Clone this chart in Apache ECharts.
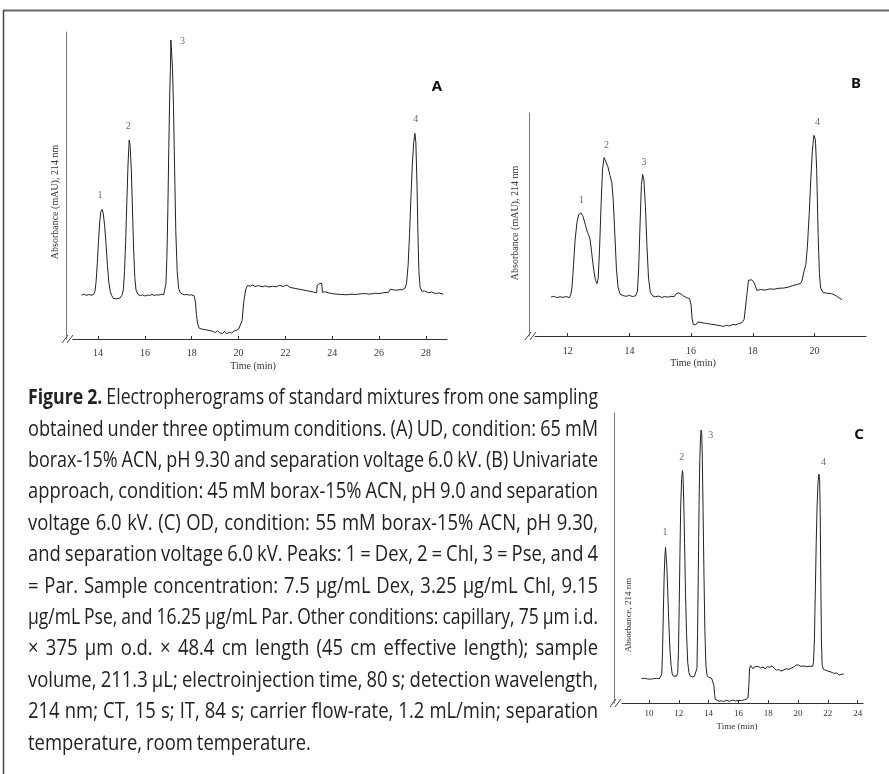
<!DOCTYPE html>
<html lang="en">
<head>
<meta charset="UTF-8">
<title>Figure 2 - Electropherograms</title>
<script src="https://cdn.jsdelivr.net/npm/echarts@6.0.0/dist/echarts.min.js"></script>
<style>
  html, body { margin: 0; padding: 0; background: #fff; }
  #main { width: 889px; height: 774px; }
</style>
</head>
<body>
<div id="main"></div>
<script>
// ---- data (time in min, absorbance in arbitrary units 0-100) ----
var ticksA = [14, 16, 18, 20, 22, 24, 26, 28];
var ticksB = [12, 14, 16, 18, 20];
var ticksC = [10, 12, 14, 16, 18, 20, 22, 24];

var traceA = [
  [13.30,14.3],[13.40,14.6],[13.50,14.2],[13.60,14.5],[13.70,14.3],[13.80,14.4],[13.87,15.5],[13.92,19],[13.97,25],[14.02,32],
  [14.07,38],[14.12,41.5],[14.17,42.2],[14.22,41],[14.28,37],[14.34,31],[14.40,24],[14.46,18.5],[14.52,15.5],[14.58,14.2],
  [14.65,13.2],[14.72,13.5],[14.80,13.1],[14.88,13.6],[14.95,13.4],[15.02,14.2],[15.08,16],[15.13,22],[15.18,32],[15.23,45],
  [15.28,57],[15.33,64.8],[15.37,63],[15.42,55],[15.47,42],[15.52,29],[15.57,20],[15.62,16],[15.70,14.6],[15.80,14.1],
  [15.90,14.4],[16.00,14.0],[16.10,14.3],[16.20,14.2],[16.30,14.5],[16.40,14.2],[16.50,14.4],[16.60,14.3],[16.70,14.6],[16.80,14.4],
  [16.86,15],[16.90,18],[16.94,27],[16.98,42],[17.02,62],[17.06,80],[17.09,88],[17.11,97.4],[17.16,97.4],[17.18,88],
  [17.22,76],[17.27,55],[17.32,35],[17.38,22],[17.44,16.5],[17.50,15.2],[17.60,14.6],[17.70,14.4],[17.80,14.5],[17.90,14.3],
  [18.00,14.4],[18.10,14.1],[18.16,12],[18.20,8],[18.25,5],[18.32,3.5],[18.45,3.2],[18.60,3.0],[18.75,2.8],[18.90,2.5],
  [19.00,2.1],[19.10,2.7],[19.20,2.0],[19.30,1.8],[19.40,2.4],[19.50,1.7],[19.60,2.2],[19.70,1.9],[19.80,2.6],[19.90,2.8],
  [20.00,3.2],[20.08,3.5],[20.15,6],[20.22,12],[20.30,16],[20.38,17.4],[20.50,17.2],[20.60,17.6],[20.70,17.1],[20.85,17.4],
  [21.00,17.0],[21.15,17.3],[21.30,16.9],[21.45,17.2],[21.60,17.0],[21.75,17.5],[21.90,17.1],[22.05,17.6],[22.20,16.8],[22.40,16.5],
  [22.60,16.2],[22.80,15.9],[23.00,15.6],[23.20,15.3],[23.33,15.0],[23.36,17.5],[23.45,18],[23.55,18.2],[23.58,15.2],[23.70,15.4],
  [23.85,15.0],[24.00,14.8],[24.20,14.6],[24.40,14.5],[24.60,14.4],[24.80,14.6],[25.00,14.5],[25.20,14.7],[25.40,14.8],[25.60,14.6],
  [25.80,14.9],[26.00,14.8],[26.20,15.1],[26.40,15.2],[26.48,16.2],[26.55,15.6],[26.70,15.9],[26.85,16.0],[27.00,16.1],[27.10,16.5],
  [27.17,18],[27.24,24],[27.30,34],[27.36,46],[27.42,57],[27.48,64],[27.53,67],[27.57,64],[27.62,50],[27.66,34],
  [27.70,22],[27.75,17],[27.82,15.6],[27.95,15.6],[28.10,15.1],[28.25,15.3],[28.40,14.8],[28.55,15.0],[28.74,14.6]
];

var traceB = [
  [11.46,17.5],[11.55,17.8],[11.65,17.2],[11.75,17.6],[11.85,17.3],[11.95,17.7],[12.05,17.2],[12.10,18.5],[12.14,22],[12.19,32],
  [12.24,43],[12.30,51],[12.36,54.5],[12.43,55.2],[12.50,53.5],[12.57,50],[12.64,46.5],[12.70,44.5],[12.73,43],[12.78,37],
  [12.84,30],[12.90,25],[12.95,23.5],[12.99,26],[13.03,38],[13.08,58],[13.13,75],[13.18,80],[13.24,79.5],[13.30,76],
  [13.37,72],[13.43,69],[13.48,60],[13.53,45],[13.58,30],[13.63,22],[13.70,18.7],[13.80,18.1],[13.90,17.8],[14.00,18.2],
  [14.10,17.7],[14.20,18.0],[14.26,20],[14.30,30],[14.35,52],[14.39,68],[14.43,72.4],[14.47,70],[14.52,58],[14.57,40],
  [14.62,26],[14.68,19.5],[14.75,18],[14.85,17.6],[14.95,17.9],[15.05,17.3],[15.15,17.7],[15.25,17.4],[15.35,17.8],[15.45,17.6],
  [15.52,19],[15.60,19.3],[15.68,18.8],[15.76,17.9],[15.85,17.2],[15.95,16.8],[16.00,14],[16.03,8],[16.07,5.2],[16.15,5],
  [16.22,6.3],[16.35,6.0],[16.50,5.6],[16.65,5.3],[16.80,5.0],[16.95,4.6],[17.05,4.3],[17.15,4.8],[17.25,4.5],[17.35,5.2],
  [17.45,5.0],[17.55,5.6],[17.65,6.0],[17.72,7.5],[17.78,8],[17.82,20],[17.86,25],[17.95,25.2],[18.02,24.5],[18.08,22.5],
  [18.13,20.5],[18.25,20.8],[18.40,20.6],[18.55,21.1],[18.70,21.0],[18.85,21.4],[19.00,21.5],[19.15,21.9],[19.30,22.6],[19.45,23.2],
  [19.55,23.5],[19.60,25],[19.66,29],[19.72,32],[19.77,40],[19.83,55],[19.88,70],[19.93,83],[19.98,90],[20.03,88],
  [20.07,75],[20.12,45],[20.16,28],[20.20,21.5],[20.28,19.5],[20.40,19.2],[20.55,19.0],[20.65,18.4],[20.75,17.6],[20.89,16.3]
];

var traceC = [
  [9.50,8.4],[9.60,8.9],[9.70,8.5],[9.80,8.8],[9.90,8.3],[10.00,8.7],[10.10,8.2],[10.20,8.6],[10.30,8.4],[10.40,8.8],
  [10.50,8.5],[10.60,8.6],[10.70,8.4],[10.80,8.7],[10.86,10],[10.91,18],[10.96,30],[11.01,42],[11.06,50],[11.11,53.6],
  [11.15,53],[11.20,47],[11.26,38],[11.33,28],[11.40,19],[11.48,13],[11.56,10],[11.65,9.2],[11.75,9.0],[11.85,9.3],
  [11.93,10.5],[11.98,18],[12.03,34],[12.08,52],[12.13,68],[12.19,77],[12.24,80.1],[12.28,79],[12.33,70],[12.39,55],
  [12.45,38],[12.52,24],[12.60,14],[12.68,10.5],[12.76,9.3],[12.90,9.0],[13.05,9.2],[13.17,9.6],[13.22,12],[13.26,24],
  [13.31,45],[13.36,68],[13.41,84],[13.46,92],[13.50,94.1],[13.54,93],[13.58,84],[13.63,66],[13.69,44],[13.75,25],
  [13.82,13],[13.90,9.5],[14.00,8.8],[14.10,8.4],[14.20,8.6],[14.30,8.3],[14.36,6],[14.40,3],[14.45,1.3],[14.55,0.9],
  [14.70,0.6],[14.85,0.8],[15.00,0.5],[15.20,0.9],[15.40,0.6],[15.60,1.0],[15.80,0.7],[16.00,0.9],[16.20,0.8],[16.40,1.1],
  [16.55,1.3],[16.65,2],[16.70,6],[16.75,12],[16.82,12.9],[16.90,13.0],[16.98,11.8],[17.08,12.5],[17.20,11.9],[17.35,12.6],
  [17.50,12.0],[17.65,12.4],[17.80,11.8],[17.95,12.6],[18.10,12.3],[18.25,12.8],[18.40,12.0],[18.55,11.3],[18.70,11.6],[18.85,11.0],
  [19.00,11.3],[19.20,11.8],[19.40,11.6],[19.60,12.2],[19.75,12.5],[19.90,13.2],[20.05,13.0],[20.20,12.6],[20.40,12.8],[20.60,12.5],
  [20.80,12.7],[20.98,12.6],[21.04,14],[21.10,22],[21.16,38],[21.22,55],[21.28,68],[21.34,76],[21.40,78.9],[21.45,77],
  [21.49,65],[21.53,42],[21.57,22],[21.62,13],[21.70,11.6],[21.85,11.3],[22.00,11.0],[22.15,10.8],[22.30,10.5],[22.45,10.2],
  [22.60,10.4],[22.75,9.6],[22.90,9.9],[23.06,10.0]
];

// peak number labels: [time, absorbance, text]
var peakLabelsA = [[14.08, 46.9, '1'], [15.29, 69.4, '2'], [17.61, 96.8, '3'], [27.57, 71.6, '4']];
var peakLabelsB = [[12.45, 60.9, '1'], [13.26, 85.5, '2'], [14.47, 78.0, '3'], [20.10, 95.7, '4']];
var peakLabelsC = [[11.08, 58.7, '1'], [12.20, 84.6, '2'], [14.15, 92.2, '3'], [21.71, 83.0, '4']];

var yTitleAB = 'Absorbance (mAU), 214 nm';
var yTitleC = 'Absorbance, 214 nm';
var xTitle = 'Time (min)';

var captionLines = [
  'Figure 2. Electropherograms of standard mixtures from one sampling',
  'obtained under three optimum conditions. (A) UD, condition: 65 mM',
  'borax-15% ACN, pH 9.30 and separation voltage 6.0 kV. (B) Univariate',
  'approach, condition: 45 mM borax-15% ACN, pH 9.0 and separation',
  'voltage 6.0 kV. (C) OD, condition: 55 mM borax-15% ACN, pH 9.30,',
  'and separation voltage 6.0 kV. Peaks: 1 = Dex, 2 = Chl, 3 = Pse,  and 4',
  '= Par. Sample concentration: 7.5 \u00b5g/mL Dex, 3.25 \u00b5g/mL Chl, 9.15',
  '\u00b5g/mL Pse, and 16.25 \u00b5g/mL Par. Other conditions: capillary, 75 \u00b5m i.d.',
  '\u00d7 375 \u00b5m o.d. \u00d7 48.4 cm length (45 cm effective length); sample',
  'volume, 211.3 \u00b5L; electroinjection time, 80 s; detection wavelength,',
  '214 nm; CT, 15 s; IT, 84 s; carrier flow-rate, 1.2 mL/min; separation',
  'temperature, room temperature.'
];

// ---- layout ----
var serif = '"Liberation Serif", "DejaVu Serif", serif';
var panels = [
  { key: 'A', left: 73, top: 32, width: 374, height: 307, yOff: 7, min: 12.93, max: 28.9, ticks: ticksA, trace: traceA, peaks: peakLabelsA,
    labelMargin: 9, fs: 10, letter: [437, 87], yTitle: yTitleAB, yTitlePos: [55, 202], xTitlePos: [253, 366] },
  { key: 'B', left: 535, top: 113, width: 331, height: 223, yOff: 6, min: 10.94, max: 21.67, ticks: ticksB, trace: traceB, peaks: peakLabelsB,
    labelMargin: 10, fs: 10, letter: [856, 84], yTitle: yTitleAB, yTitlePos: [515, 223], xTitlePos: [693, 363] },
  { key: 'C', left: 622, top: 413, width: 241, height: 290, yOff: 8, min: 8.19, max: 24.36, ticks: ticksC, trace: traceC, peaks: peakLabelsC,
    labelMargin: 6, fs: 9, letter: [859, 435], yTitle: yTitleC, yTitlePos: [629, 615], xTitlePos: [737, 727] }
];

var grids = [], xAxes = [], yAxes = [], series = [], graphics = [];

// figure frame (top and left edges only are in view)
graphics.push({ type: 'line', shape: { x1: 3, y1: 10.5, x2: 889, y2: 10.5 }, style: { stroke: '#666', lineWidth: 2 } });
graphics.push({ type: 'line', shape: { x1: 3.5, y1: 10, x2: 3.5, y2: 774 }, style: { stroke: '#444', lineWidth: 1.5 } });

panels.forEach(function (p, i) {
  grids.push({ left: p.left, top: p.top, width: p.width, height: p.height, containLabel: false, outerBoundsMode: 'none' });
  xAxes.push({
    type: 'value', gridIndex: i, min: p.min, max: p.max,
    axisLine: { show: true, lineStyle: { color: '#333', width: 1 } },
    axisTick: { show: true, inside: true, length: 3, customValues: p.ticks, lineStyle: { color: '#333' } },
    axisLabel: { show: true, customValues: p.ticks, margin: p.labelMargin, fontFamily: serif, fontSize: p.fs, color: '#333' },
    splitLine: { show: false }
  });
  yAxes.push({
    type: 'value', gridIndex: i, min: 0, max: 100, offset: p.yOff,
    axisLine: { show: true, lineStyle: { color: '#777', width: 1 } },
    axisTick: { show: false }, axisLabel: { show: false }, splitLine: { show: false }
  });
  series.push({
    type: 'line', xAxisIndex: i, yAxisIndex: i, data: p.trace, showSymbol: false, silent: true,
    lineStyle: { color: '#222', width: 1 }
  });
  series.push({
    type: 'scatter', xAxisIndex: i, yAxisIndex: i, symbolSize: 1, silent: true,
    itemStyle: { color: 'rgba(0,0,0,0)' },
    data: p.peaks.map(function (d) { return { value: [d[0], d[1]], name: d[2] }; }),
    label: { show: true, position: 'inside', formatter: '{b}', fontFamily: serif, fontSize: 10, color: '#444' }
  });

  // axis titles and panel letter
  graphics.push({ type: 'text', x: p.yTitlePos[0], y: p.yTitlePos[1], rotation: Math.PI / 2,
    style: { text: p.yTitle, fontFamily: serif, fontSize: p.fs, fill: '#333', align: 'center', verticalAlign: 'middle' } });
  graphics.push({ type: 'text', x: p.xTitlePos[0], y: p.xTitlePos[1],
    style: { text: xTitle, fontFamily: serif, fontSize: p.fs, fill: '#333', align: 'center', verticalAlign: 'middle' } });
  graphics.push({ type: 'text', x: p.letter[0], y: p.letter[1],
    style: { text: p.key, fontFamily: '"Noto Sans", "Liberation Sans", sans-serif', fontWeight: 'bold', fontSize: 15, fill: '#111', align: 'center', verticalAlign: 'middle' } });

  // axis break marks at the origin
  var ax = p.left - p.yOff, by = p.top + p.height;
  graphics.push({ type: 'line', shape: { x1: ax - 4, y1: by + 4, x2: ax + 2, y2: by - 4 }, style: { stroke: '#444', lineWidth: 1 } });
  graphics.push({ type: 'line', shape: { x1: ax + 1, y1: by + 4, x2: ax + 7, y2: by - 4 }, style: { stroke: '#444', lineWidth: 1 } });
});

// ---- caption, justified word by word ----
var capFont = '"Open Sans", "Noto Sans", sans-serif';
var capSize = 16, capLeft = 28, capRight = 598, capTop = 398, capStep = 31.4, capScaleY = 1.35, minGap = 4;
var ctx = document.createElement('canvas').getContext('2d');
function measure(w, bold) {
  ctx.font = (bold ? 'bold ' : '') + capSize + 'px ' + capFont;
  return ctx.measureText(w).width;
}
var capW = capRight - capLeft;
var lineWords = captionLines.map(function (line, k) {
  return line.split(/\s+/).map(function (w, j) {
    var bold = (k === 0 && j < 2);
    return { text: w, bold: bold, w: measure(w, bold) };
  });
});
function lineSum(ws) { return ws.reduce(function (s, o) { return s + o.w; }, 0); }
var ratios = lineWords.slice(0, -1).map(function (ws) {
  return (capW - (ws.length - 1) * minGap) / lineSum(ws);
}).sort(function (a, b) { return a - b; });
var capScaleX = ratios[Math.floor(ratios.length / 2)];
lineWords.forEach(function (ws, k) {
  var last = (k === lineWords.length - 1);
  var fit = (capW - (ws.length - 1) * minGap) / lineSum(ws);
  var sx = last ? capScaleX : Math.min(capScaleX, fit);
  var sum = lineSum(ws) * sx;
  var gap = last ? minGap : (capW - sum) / (ws.length - 1);
  var x = capLeft, y = capTop + k * capStep;
  ws.forEach(function (o) {
    graphics.push({ type: 'text', x: x, y: y, scaleX: sx, scaleY: capScaleY,
      style: { text: o.text, fontFamily: capFont, fontSize: capSize, fontWeight: o.bold ? 'bold' : 'normal',
        fill: '#222', verticalAlign: 'middle' } });
    x += o.w * sx + gap;
  });
});

var myChart = echarts.init(document.getElementById('main'));
myChart.setOption({
  animation: false,
  backgroundColor: '#fff',
  grid: grids,
  xAxis: xAxes,
  yAxis: yAxes,
  series: series,
  graphic: graphics
});
</script>
</body>
</html>
